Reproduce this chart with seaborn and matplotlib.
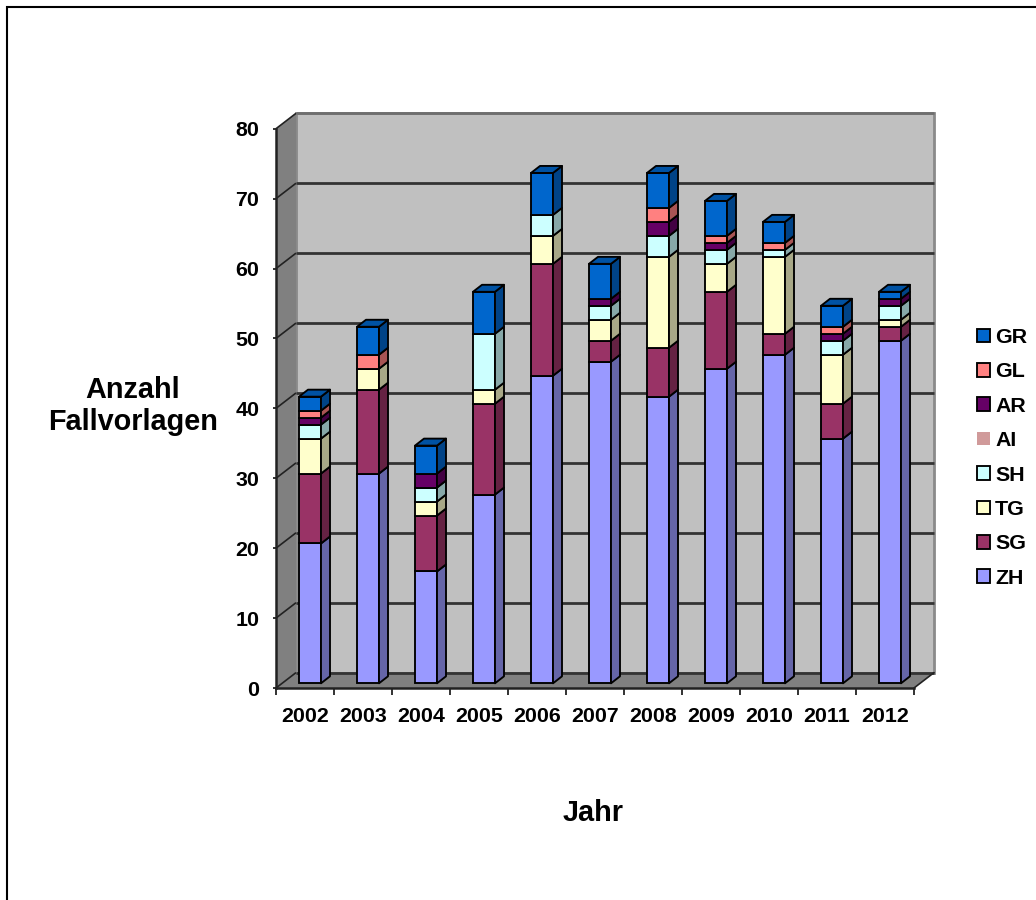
import numpy as np
import pandas as pd
import matplotlib
matplotlib.use("Agg")
import matplotlib.pyplot as plt
from matplotlib.colors import to_rgb
from matplotlib.lines import Line2D
from matplotlib.patches import Patch
from matplotlib.transforms import Affine2D
import seaborn as sns

# Fallvorlagen pro Jahr und Kanton
years = ["2002", "2003", "2004", "2005", "2006", "2007", "2008", "2009", "2010", "2011", "2012"]
ZH = [20, 30, 16, 27, 44, 46, 41, 45, 47, 35, 49]
SG = [10, 12, 8, 13, 16, 3, 7, 11, 3, 5, 2]
TG = [5, 3, 2, 2, 4, 3, 13, 4, 11, 7, 1]
SH = [2, 0, 2, 8, 3, 2, 3, 2, 1, 2, 2]
AI = [0, 0, 0, 0, 0, 0, 0, 0, 0, 0, 0]
AR = [1, 0, 2, 0, 0, 1, 2, 1, 0, 1, 1]
GL = [1, 2, 0, 0, 0, 0, 2, 1, 1, 1, 0]
GR = [2, 4, 4, 6, 6, 5, 5, 5, 3, 3, 1]

series_names = ["ZH", "SG", "TG", "SH", "AI", "AR", "GL", "GR"]
series_values = [ZH, SG, TG, SH, AI, AR, GL, GR]
series_colors = ["#9999ff", "#993366", "#ffffcc", "#ccffff", "#d09a9a", "#660066", "#ff8080", "#0066cc"]
y_ticks = [0, 10, 20, 30, 40, 50, 60, 70, 80]

W, H = 1036, 900
sns.set_theme(style="white")
plt.rcParams["font.family"] = ["Liberation Sans", "DejaVu Sans"]
plt.rcParams["font.weight"] = "bold"
plt.rcParams["text.color"] = "black"

fig = plt.figure(figsize=(W / 100, H / 100), dpi=100, facecolor="white")
ax = fig.add_axes([276 / W, (H - 688) / H, (914 - 276) / W, (688 - 128.7) / H])
ax.patch.set_alpha(0)


def px(x, y):
    """Figure fraction of a pixel position counted from the top left."""
    return x / W, 1 - y / H


# Depth of the pseudo 3D box and of the columns inside it, in data units
WALL_DX, WALL_DY = 20 / 58, 15.4 / 7
BAR_SHIFT_X, BAR_SHIFT_Y = 5 / 58, 4.7 / 7
BAR_DX, BAR_DY = 9 / 58, 7 / 7
BAR_WIDTH = 22 / 58
LW = 1.35


def shade(color, factor):
    return tuple(c * factor for c in to_rgb(color))


# Columns: front faces through seaborn, shifted back into the box
stack_base = np.zeros(len(years))
x_pos = np.arange(len(years))
for name, values, color in zip(series_names, series_values, series_colors):
    vals = np.array(values, dtype=float)
    present = vals > 0
    if present.any():
        frame = pd.DataFrame({"Jahr": np.array(years)[present], name: vals[present]})
        sns.barplot(
            data=frame, x="Jahr", y=name, order=years, color=color, saturation=1,
            width=BAR_WIDTH, bottom=stack_base[present], errorbar=None, legend=False,
            edgecolor="black", linewidth=LW, ax=ax, zorder=5, clip_on=False,
            transform=Affine2D().translate(BAR_SHIFT_X, BAR_SHIFT_Y) + ax.transData,
        )
    stack_base = stack_base + vals

ax.set_xlim(-0.5, 10.5)
ax.set_ylim(0, 80)

# Side and top faces of every column segment
totals = np.zeros(len(years))
for values, color in zip(series_values, series_colors):
    for i, v in enumerate(values):
        if v <= 0:
            continue
        r = i + BAR_SHIFT_X + BAR_WIDTH / 2
        b = totals[i] + BAR_SHIFT_Y
        ax.fill([r, r + BAR_DX, r + BAR_DX, r],
                [b, b + BAR_DY, b + v + BAR_DY, b + v],
                facecolor=shade(color, 0.66), edgecolor="black", linewidth=LW,
                zorder=5, clip_on=False, joinstyle="round")
    totals = totals + np.array(values)
top_color = series_colors[-1]
for i, t in enumerate(totals):
    l = i + BAR_SHIFT_X - BAR_WIDTH / 2
    r = l + BAR_WIDTH
    y = t + BAR_SHIFT_Y
    ax.fill([l, r, r + BAR_DX, l + BAR_DX], [y, y, y + BAR_DY, y + BAR_DY],
            facecolor=shade(top_color, 0.8), edgecolor="black", linewidth=LW,
            zorder=5, clip_on=False, joinstyle="round")

# Box: back wall, left wall and floor
x0, x1 = -0.5, 10.5
y_top = y_ticks[-1]
ax.fill([x0 + WALL_DX, x1 + WALL_DX, x1 + WALL_DX, x0 + WALL_DX],
        [WALL_DY, WALL_DY, y_top + WALL_DY, y_top + WALL_DY],
        facecolor="#c0c0c0", edgecolor="#8a8a8a", linewidth=2.0, zorder=1, clip_on=False)
ax.fill([x0, x0 + WALL_DX, x0 + WALL_DX, x0],
        [0, WALL_DY, y_top + WALL_DY, y_top],
        facecolor="#808080", edgecolor="none", zorder=1, clip_on=False)
ax.fill([x0, x1, x1 + WALL_DX, x0 + WALL_DX],
        [0, 0, WALL_DY, WALL_DY],
        facecolor="#808080", edgecolor="none", zorder=1, clip_on=False)

# Gridlines run across the back wall and down the left wall
for t in y_ticks:
    grid_color = "#6e6e6e" if t == y_top else "#333333"
    ax.plot([x0 + WALL_DX, x1 + WALL_DX], [t + WALL_DY, t + WALL_DY], color=grid_color,
            lw=2.0, zorder=2, clip_on=False, solid_capstyle="butt")
    ax.plot([x0, x0 + WALL_DX], [t, t + WALL_DY], color="#222222", lw=1.2, zorder=2,
            clip_on=False, solid_capstyle="butt")
ax.plot([x1, x1 + WALL_DX], [0, WALL_DY], color="#222222", lw=1.2, zorder=2, clip_on=False)

# Axes
for side in ["top", "right"]:
    ax.spines[side].set_visible(False)
for side in ["left", "bottom"]:
    ax.spines[side].set_visible(True)
    ax.spines[side].set_color("#222222")
    ax.spines[side].set_linewidth(1.8)
    ax.spines[side].set_zorder(4)

ax.set_yticks(y_ticks)
ax.set_yticklabels([str(t) for t in y_ticks])
ax.set_xticks(np.arange(-0.5, 11, 1))
ax.set_xticklabels([])
ax.set_xticks(x_pos, labels=years, minor=True)
ax.tick_params(axis="x", which="major", direction="out", length=5, width=1.3,
               color="#222222", bottom=True, pad=0)
ax.tick_params(axis="x", which="minor", length=0, pad=14, labelsize=15.4,
               labelcolor="black")
ax.tick_params(axis="y", which="major", direction="inout", length=4, width=1.3,
               color="#222222", left=True, pad=10, labelsize=15.4, labelcolor="black")
for label in ax.get_xticklabels(which="minor") + ax.get_yticklabels():
    label.set_fontweight("bold")

# Axis titles
ax.set_xlabel("Jahr", fontsize=20.8, fontweight="bold", color="black")
ax.set_ylabel("Anzahl\nFallvorlagen", fontsize=20.8, fontweight="bold", color="black",
              rotation=0, ha="center", va="center", linespacing=1.18)
ax.xaxis.set_label_coords(*px(593, 799), transform=fig.transFigure)
ax.yaxis.set_label_coords(*px(133, 406), transform=fig.transFigure)

# Legend, top entry first; AI has no columns and no outline
handles = []
for name, color in zip(series_names[::-1], series_colors[::-1]):
    if name == "AI":
        handles.append(Patch(facecolor=color, edgecolor="none", label=name))
    else:
        handles.append(Patch(facecolor=color, edgecolor="black", linewidth=LW, label=name))
fig.legend(handles=handles, loc="upper left", bbox_to_anchor=px(977, 328),
           bbox_transform=fig.transFigure, frameon=False,
           labelcolor="black", prop={"family": ["Liberation Sans"], "weight": "bold", "size": 15.4},
           handlelength=0.6, handleheight=0.6, handletextpad=0.25, labelspacing=0.72,
           borderpad=0, borderaxespad=0)

# Chart frame: only the top and left edges fall inside the image
fig.add_artist(Line2D([7 / W, 7 / W, 1], [0, 1 - 7 / H, 1 - 7 / H], color="black", lw=1.5,
                      transform=fig.transFigure, solid_joinstyle="miter"))

fig.savefig("out.png", dpi=100, facecolor="white")
